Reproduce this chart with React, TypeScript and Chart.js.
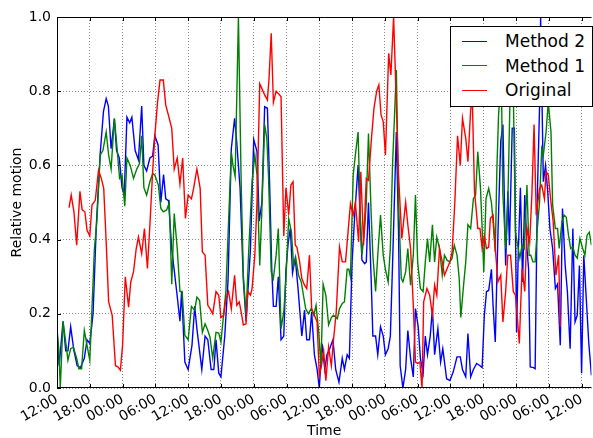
import React, { useEffect, useRef } from "react";
import { Chart, registerables } from "chart.js";

Chart.register(...registerables);

// hours since the first 12:00 tick
const seriesNames = ["Method 2", "Method 1", "Original"];
const seriesColors = ["#0000ff", "#008000", "#ff0000"];

const method2Hours = [
  0, 0.4, 1.1, 1.6, 2.0, 2.5, 3.1, 3.7, 4.3, 5.0, 5.5, 6.0, 6.6, 7.2, 7.9, 8.5, 9.0, 9.4, 9.9, 10.5,
  10.9, 11.4, 11.9, 12.3, 12.8, 13.3, 13.7, 14.3, 14.9, 15.5, 15.9, 16.4, 17.0, 17.5, 17.9, 18.5, 19.0,
  19.5, 19.9, 20.4, 21.0, 21.9, 22.5, 22.8, 23.4, 24.0, 24.7, 25.2, 25.6, 26.5, 27.1, 27.6, 28.2, 28.7,
  29.1, 29.6, 30.0, 30.7, 31.3, 31.9, 32.5, 32.9, 33.5, 34.1, 34.6, 35.4, 36.0, 36.6, 37.0, 37.5, 38.0,
  38.5, 38.9, 39.3, 39.6, 40.1, 40.5, 41.0, 41.5, 41.9, 42.3, 42.7, 43.1, 43.6, 44.1, 44.8, 45.3, 45.7,
  46.2, 46.6, 47.1, 47.6, 48.0, 48.5, 49.0, 49.4, 49.9, 50.5, 51.0, 51.6, 52.2, 52.6, 53.1, 53.5, 54.0,
  54.5, 55.1, 55.5, 55.8, 56.3, 56.6, 57.0, 57.5, 57.8, 58.3, 58.7, 59.2, 59.7, 60.1, 60.6, 61.0, 61.4,
  62.1, 62.5, 62.8, 63.3, 63.8, 64.2, 64.7, 65.2, 65.6, 66.1, 66.5, 67.0, 67.4, 67.8, 68.3, 68.7, 69.1,
  69.7, 70.2, 70.6, 71.3, 71.9, 72.5, 73.2, 73.8, 74.2, 74.8, 75.2, 75.7, 76.2, 76.8, 77.4, 77.8, 78.2,
  78.6, 79.0, 79.5, 79.8, 80.2, 80.7, 81.2, 81.6, 82.1, 82.5, 82.8, 83.3, 83.7, 84.1, 84.4, 84.8, 85.2,
  85.6, 86.0, 86.3, 86.6, 87.2, 87.5, 87.9, 88.3, 88.5, 89.0, 89.4, 89.8, 90.2, 90.7, 91.2, 91.6, 92.1,
  92.5, 93.0, 93.4, 93.9, 94.4, 94.8, 95.2, 95.6, 96.0, 96.4, 96.9, 97.3, 97.8,
];
const method2Values = [
  0.15, 0.06, 0.18, 0.10, 0.10, 0.165, 0.10, 0.06, 0.055, 0.08, 0.13, 0.12, 0.20, 0.44, 0.63, 0.745, 0.78,
  0.76, 0.645, 0.725, 0.64, 0.62, 0.54, 0.52, 0.73, 0.715, 0.73, 0.64, 0.615, 0.76, 0.60, 0.585, 0.62,
  0.625, 0.68, 0.655, 0.50, 0.575, 0.51, 0.505, 0.375, 0.26, 0.18, 0.26, 0.07, 0.05, 0.115, 0.22, 0.16,
  0.05, 0.14, 0.13, 0.05, 0.05, 0.13, 0.04, 0.03, 0.14, 0.29, 0.645, 0.727, 0.66, 0.54, 0.29, 0.18, 0.375,
  0.67, 0.637, 0.45, 0.50, 0.758, 0.754, 0.555, 0.32, 0.22, 0.22, 0.30, 0.13, 0.14, 0.32, 0.39, 0.43,
  0.31, 0.35, 0.27, 0.14, 0.21, 0.13, 0.13, 0.205, 0.09, 0.05, 0.0, 0.12, 0.05, 0.09, 0.106, 0.13, 0.05,
  0.016, 0.08, 0.05, 0.09, 0.08, 0.34, 0.47, 0.60, 0.45, 0.345, 0.335, 0.34, 0.50, 0.29, 0.14, 0.14, 0.09,
  0.165, 0.14, 0.09, 0.106, 0.14, 0.33, 0.69, 0.42, 0.06, 0.0, 0.05, 0.155, 0.08, 0.03, 0.214, 0.165,
  0.08, 0.04, 0.14, 0.09, 0.14, 0.214, 0.09, 0.16, 0.07, 0.106, 0.025, 0.02, 0.043, 0.084, 0.084, 0.05,
  0.03, 0.147, 0.03, 0.05, 0.066, 0.06, 0.055, 0.196, 0.26, 0.263, 0.32, 0.223, 0.124, 0.42, 0.664, 0.71,
  0.33, 0.53, 0.385, 0.70, 0.70, 0.15, 0.36, 0.54, 0.286, 0.52, 0.376, 0.32, 0.057, 0.055, 0.052, 0.52,
  0.754, 1.0, 0.556, 0.60, 0.53, 0.43, 0.376, 0.268, 0.28, 0.115, 0.484, 0.33, 0.26, 0.106, 0.43, 0.178,
  0.196, 0.33, 0.04, 0.358, 0.23, 0.124, 0.034,
];

const method1Hours = [
  0, 0.35, 0.6, 1.1, 1.6, 2.0, 2.5, 3.0, 3.6, 4.0, 4.5, 5.0, 5.5, 6.0, 6.4, 6.85, 7.3, 7.9, 8.4, 9.0, 9.45,
  9.9, 10.5, 11.0, 11.45, 11.9, 12.4, 12.8, 13.4, 14.0, 14.6, 15.1, 15.5, 15.9, 16.4, 17.0, 17.5, 17.9,
  18.55, 19.0, 19.45, 20.06, 20.55, 21.0, 21.45, 22.0, 22.5, 22.9, 23.4, 24.0, 24.6, 25.2, 25.6, 26.1,
  26.6, 27.1, 27.6, 28.0, 28.5, 29.1, 29.6, 30.0, 30.5, 30.9, 31.4, 31.9, 32.2, 32.6, 33.2, 33.7, 34.1,
  34.6, 35.1, 35.7, 36.2, 36.6, 37.1, 37.5, 38.0, 38.4, 38.7, 39.2, 39.6, 40.1, 40.5, 41.0, 41.5, 41.9,
  42.4, 42.9, 43.3, 43.7, 44.2, 44.7, 45.1, 45.5, 46.0, 46.5, 47.0, 47.4, 47.9, 48.3, 48.7, 49.2, 49.7,
  50.2, 50.6, 51.3, 51.7, 52.2, 52.6, 53.1, 53.4, 53.7, 54.2, 54.6, 55.1, 55.5, 55.8, 56.3, 56.6, 57.0,
  57.5, 57.8, 58.3, 58.7, 59.2, 59.7, 60.1, 60.6, 61.0, 61.4, 62.1, 62.5, 63.0, 63.3, 63.8, 64.2, 64.7,
  65.2, 65.6, 66.0, 66.5, 67.0, 67.4, 67.8, 68.2, 68.7, 69.1, 69.5, 70.0, 70.5, 70.9, 71.4, 71.9, 72.3,
  72.7, 73.2, 73.6, 73.9, 74.4, 74.8, 75.2, 75.7, 76.2, 76.6, 77.0, 77.5, 77.8, 78.1, 78.5, 79.0, 79.5,
  79.8, 80.2, 80.5, 80.8, 81.3, 81.6, 82.1, 82.5, 83.0, 83.5, 83.9, 84.3, 84.7, 85.1, 85.5, 86.0, 86.4,
  86.7, 87.1, 87.5, 87.9, 88.3, 88.7, 89.0, 89.5, 89.9, 90.4, 90.7, 91.2, 91.6, 91.9, 92.4, 92.8, 93.2,
  93.6, 94.0, 94.4, 94.8, 95.2, 95.7, 96.2, 96.6, 97.0, 97.4, 97.8,
];
const method1Values = [
  0.16, 0.10, 0.0, 0.18, 0.124, 0.075, 0.106, 0.11, 0.08, 0.052, 0.052, 0.155, 0.115, 0.075, 0.214, 0.376,
  0.45, 0.628, 0.64, 0.69, 0.628, 0.59, 0.727, 0.645, 0.565, 0.574, 0.49, 0.62, 0.60, 0.565, 0.59, 0.605,
  0.68, 0.54, 0.52, 0.556, 0.578, 0.574, 0.547, 0.484, 0.475, 0.48, 0.50, 0.28, 0.47, 0.376, 0.26, 0.26,
  0.142, 0.13, 0.22, 0.21, 0.245, 0.236, 0.15, 0.173, 0.155, 0.137, 0.08, 0.15, 0.148, 0.124, 0.20, 0.26,
  0.45, 0.636, 0.60, 0.57, 1.0, 0.556, 0.304, 0.196, 0.376, 0.556, 0.628, 0.574, 0.33, 0.484, 0.71, 0.672,
  0.574, 0.313, 0.295, 0.358, 0.43, 0.16, 0.205, 0.295, 0.457, 0.42, 0.33, 0.35, 0.304, 0.286, 0.25,
  0.214, 0.20, 0.214, 0.196, 0.223, 0.15, 0.06, 0.28, 0.25, 0.17, 0.19, 0.196, 0.187, 0.214, 0.228, 0.232,
  0.32, 0.32, 0.30, 0.574, 0.628, 0.69, 0.466, 0.358, 0.43, 0.50, 0.686, 0.466, 0.358, 0.26, 0.358, 0.466,
  0.358, 0.32, 0.286, 0.376, 0.60, 0.857, 0.50, 0.295, 0.286, 0.313, 0.376, 0.277, 0.358, 0.52, 0.34,
  0.268, 0.26, 0.34, 0.403, 0.34, 0.44, 0.34, 0.407, 0.376, 0.304, 0.358, 0.344, 0.34, 0.35, 0.385, 0.358,
  0.295, 0.19, 0.277, 0.34, 0.44, 0.43, 0.51, 0.52, 0.637, 0.538, 0.43, 0.313, 0.51, 0.538, 0.50, 0.448,
  0.367, 0.592, 0.735, 0.84, 0.52, 0.376, 0.50, 0.85, 0.80, 0.42, 0.385, 0.35, 0.385, 0.376, 0.547, 0.358,
  0.358, 0.34, 0.34, 0.43, 0.50, 0.645, 0.628, 0.69, 0.77, 0.69, 0.493, 0.43, 0.43, 0.376, 0.448, 0.466,
  0.46, 0.412, 0.376, 0.38, 0.358, 0.35, 0.403, 0.376, 0.358, 0.412, 0.42, 0.385,
];

const originalHours = [
  2.2, 2.6, 3.1, 3.6, 4.2, 4.6, 5.1, 5.5, 6.0, 6.4, 7.0, 7.6, 8.1, 8.55, 9.0, 9.45, 10.1, 10.7, 11.15,
  11.6, 12.0, 12.5, 13.1, 13.5, 14.0, 14.5, 14.9, 15.5, 16.0, 16.55, 17.0, 17.5, 17.9, 18.4, 18.85, 19.45,
  19.9, 20.4, 21.0, 21.45, 22.0, 22.5, 23.0, 23.5, 24.0, 24.6, 25.0, 25.6, 26.2, 26.6, 27.1, 27.6, 28.0,
  28.5, 29.1, 29.6, 30.0, 30.5, 30.9, 31.4, 31.9, 32.5, 32.9, 33.35, 33.7, 34.1, 34.6, 34.9, 35.4, 35.7,
  36.2, 36.6, 37.1, 37.5, 38.0, 38.5, 38.8, 39.2, 39.6, 40.1, 40.5, 41.0, 41.5, 41.9, 42.4, 42.8, 43.2,
  43.6, 43.9, 44.4, 44.8, 45.3, 45.7, 46.2, 46.6, 47.1, 47.6, 48.0, 48.4, 48.8, 49.2, 49.7, 50.2, 50.6,
  51.1, 51.7, 52.2, 52.8, 53.2, 53.7, 54.2, 54.6, 55.2, 55.6, 56.1, 56.6, 57.0, 57.5, 58.0, 58.5, 58.9,
  59.3, 59.7, 60.1, 60.7, 61.1, 61.6, 62.5, 63.1, 63.8, 64.2, 64.7, 65.2, 65.6, 66.0, 66.4, 66.8, 67.1,
  67.7, 68.2, 68.7, 69.1, 69.5, 70.0, 70.5, 70.9, 71.4, 71.9, 72.3, 72.8, 73.3, 73.8, 74.2, 74.8, 75.2,
  75.7, 76.0, 76.4, 76.8, 77.0, 77.4, 77.8, 78.2, 78.6, 79.0, 79.3, 79.8, 80.2, 80.7, 81.2, 81.6, 82.1,
  82.5, 83.0, 83.5, 83.9, 84.2, 84.6, 85.1, 85.6, 86.0, 86.5, 86.9, 87.3, 87.7, 88.3, 88.7, 89.2, 89.5,
  89.9, 90.4, 90.8, 91.3, 91.8, 92.1,
];
const originalValues = [
  0.486, 0.52, 0.475, 0.385, 0.53, 0.48, 0.475, 0.425, 0.41, 0.493, 0.506, 0.587, 0.565, 0.538, 0.394,
  0.232, 0.196, 0.06, 0.057, 0.048, 0.115, 0.30, 0.218, 0.286, 0.313, 0.376, 0.407, 0.362, 0.43, 0.322,
  0.44, 0.583, 0.68, 0.77, 0.83, 0.83, 0.763, 0.735, 0.70, 0.59, 0.62, 0.55, 0.62, 0.457, 0.52, 0.51,
  0.538, 0.59, 0.538, 0.367, 0.358, 0.223, 0.214, 0.20, 0.26, 0.25, 0.19, 0.196, 0.24, 0.26, 0.214, 0.304,
  0.223, 0.232, 0.205, 0.17, 0.173, 0.26, 0.25, 0.268, 0.358, 0.50, 0.82, 0.807, 0.79, 0.776, 0.834, 0.956,
  0.77, 0.80, 0.794, 0.785, 0.41, 0.54, 0.466, 0.547, 0.556, 0.385, 0.38, 0.34, 0.295, 0.277, 0.268, 0.358,
  0.214, 0.196, 0.178, 0.034, 0.06, 0.10, 0.02, 0.11, 0.06, 0.13, 0.205, 0.38, 0.34, 0.34, 0.41, 0.497,
  0.466, 0.50, 0.394, 0.583, 0.385, 0.565, 0.56, 0.664, 0.754, 0.80, 0.817, 0.736, 0.718, 0.628, 0.902,
  0.844, 1.0, 0.574, 0.403, 0.50, 0.44, 0.376, 0.223, 0.07, 0.066, 0.07, 0.0, 0.232, 0.268, 0.25, 0.196,
  0.277, 0.25, 0.376, 0.34, 0.304, 0.322, 0.34, 0.367, 0.50, 0.68, 0.60, 0.727, 0.673, 0.61, 0.75, 0.78,
  0.53, 0.466, 0.43, 0.43, 0.376, 0.41, 0.376, 0.38, 0.457, 0.466, 0.376, 0.286, 0.304, 0.178, 0.26,
  0.358, 0.358, 0.26, 0.25, 0.196, 0.12, 0.322, 0.26, 0.43, 0.394, 0.52, 0.71, 0.466, 0.538, 0.547, 0.51,
  0.583, 0.574, 0.50, 0.448, 0.304, 0.358, 0.165,
];

const xMax = 97.8;
const hourStep = 6;
const startHourOfDay = 12;

const FONT = "'DejaVu Sans', 'Liberation Sans', sans-serif";
const GRID_COLOR = "rgba(0,0,0,0.45)";
const LINE_WIDTH = 1.4;
const TICK_LEN = 4;

const toPoints = (hours: number[], values: number[]) =>
  hours.map((h, i) => ({ x: h, y: values[i] }));

// matplotlib-like frame: spines and inward tick marks drawn over the lines
const framePlugin = {
  id: "frame",
  afterDatasetsDraw(chart: any) {
    const { ctx, chartArea, scales } = chart;
    const { left, right, top, bottom } = chartArea;
    ctx.save();
    ctx.strokeStyle = "#000";
    ctx.lineWidth = 1;
    ctx.beginPath();
    ctx.moveTo(right, top + 0.5);
    ctx.lineTo(left + 0.5, top + 0.5);
    ctx.lineTo(left + 0.5, bottom - 0.5);
    ctx.lineTo(right, bottom - 0.5);
    scales.y.ticks.forEach((t: any) => {
      const py = Math.round(scales.y.getPixelForValue(t.value)) + 0.5;
      ctx.moveTo(left, py);
      ctx.lineTo(left + TICK_LEN, py);
    });
    scales.x.ticks.forEach((t: any) => {
      const px = Math.round(scales.x.getPixelForValue(t.value)) + 0.5;
      ctx.moveTo(px, bottom);
      ctx.lineTo(px, bottom - TICK_LEN);
      ctx.moveTo(px, top);
      ctx.lineTo(px, top + TICK_LEN);
    });
    ctx.stroke();
    ctx.restore();
  },
};

export default function App() {
  const chartRef = useRef<HTMLCanvasElement | null>(null);

  useEffect(() => {
    document.body.style.margin = "0";
    if (!chartRef.current) return;
    const ctx = chartRef.current.getContext("2d");
    if (!ctx) return;

    const series = [
      toPoints(method2Hours, method2Values),
      toPoints(method1Hours, method1Values),
      toPoints(originalHours, originalValues),
    ];

    const chart = new Chart(ctx, {
      type: "line",
      data: {
        datasets: series.map((data, i) => ({
          label: seriesNames[i],
          data,
          borderColor: seriesColors[i],
          backgroundColor: seriesColors[i],
          borderWidth: LINE_WIDTH,
          pointRadius: 0,
          tension: 0,
          fill: false,
          order: 2 - i,
        })),
      },
      options: {
        responsive: false,
        animation: false,
        layout: { padding: { top: 17, right: 0, bottom: 0, left: 0 } },
        plugins: {
          legend: { display: false },
          tooltip: { enabled: false },
        },
        scales: {
          x: {
            type: "linear",
            min: 0,
            max: xMax,
            afterFit: (scale: any) => {
              scale.height = 50;
            },
            ticks: {
              stepSize: hourStep,
              includeBounds: false,
              minRotation: 30,
              maxRotation: 30,
              autoSkip: false,
              padding: 3,
              color: "#000",
              font: { family: FONT, size: 14 },
              callback: (v: any) => {
                const hh = (startHourOfDay + Number(v)) % 24;
                return String(hh).padStart(2, "0") + ":00";
              },
            },
            grid: {
              color: GRID_COLOR,
              lineWidth: 1,
              drawTicks: false,
            },
            border: { display: false, dash: [1, 2] },
            title: {
              display: true,
              text: "Time",
              color: "#000",
              font: { family: FONT, size: 14, lineHeight: 1 },
              padding: { top: 0, bottom: 0 },
            },
          },
          y: {
            min: 0,
            max: 1,
            afterFit: (scale: any) => {
              scale.width = 57;
            },
            ticks: {
              stepSize: 0.2,
              padding: 6,
              color: "#000",
              font: { family: FONT, size: 14 },
              callback: (v: any) => Number(v).toFixed(1),
            },
            grid: {
              color: GRID_COLOR,
              lineWidth: 1,
              drawTicks: false,
            },
            border: { display: false, dash: [1, 2] },
            title: {
              display: true,
              text: "Relative motion",
              color: "#000",
              font: { family: FONT, size: 14, lineHeight: 1 },
              padding: { top: 10, bottom: 0 },
            },
          },
        },
      },
      plugins: [framePlugin],
    });

    return () => {
      chart.destroy();
    };
  }, []);

  return (
    <div style={{ position: "relative", width: 593, height: 438, background: "#fff", overflow: "hidden" }}>
      <canvas ref={chartRef} width={593} height={438} style={{ width: 593, height: 438 }}></canvas>
      <div
        style={{
          position: "absolute",
          left: 450,
          top: 26,
          width: 141,
          height: 79,
          border: "1px solid #000",
          background: "#fff",
          fontFamily: FONT,
          fontSize: 17,
          color: "#000",
        }}
      >
        {seriesNames.map((name, i) => (
          <div
            key={name}
            style={{
              position: "absolute",
              left: 11,
              top: 4 + i * 24.5,
              height: 20,
              display: "flex",
              alignItems: "center",
              whiteSpace: "nowrap",
            }}
          >
            <span style={{ display: "inline-block", width: 25, borderTop: `${LINE_WIDTH}px solid ${seriesColors[i]}` }}></span>
            <span style={{ marginLeft: 18 }}>{name}</span>
          </div>
        ))}
      </div>
    </div>
  );
}
